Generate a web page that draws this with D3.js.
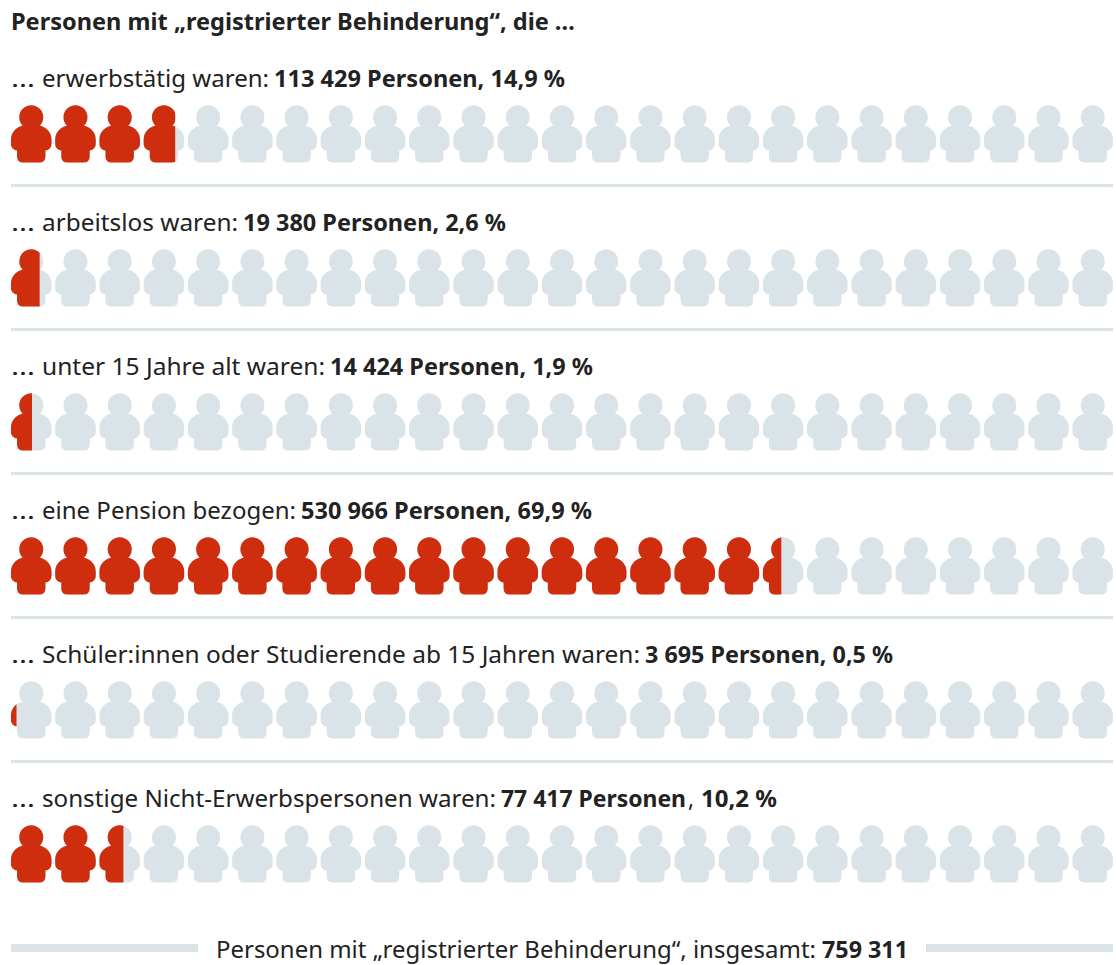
<!DOCTYPE html>
<html><head><meta charset="utf-8">
<script src="https://cdn.jsdelivr.net/npm/d3@7"></script>
<style>html,body{margin:0;padding:0;background:#fff}svg{display:block}
text{font-family:"Noto Sans","Open Sans",sans-serif;fill:#222;white-space:pre}</style></head>
<body><svg id="c" width="1116" height="965"></svg>
<script>
const labels=["erwerbstätig waren:","arbeitslos waren:","unter 15 Jahre alt waren:","eine Pension bezogen:","Schüler:innen oder Studierende ab 15 Jahren waren:","sonstige Nicht-Erwerbspersonen waren:"];
const persons=["113 429 Personen","19 380 Personen","14 424 Personen","530 966 Personen","3 695 Personen","77 417 Personen"];
const shares=[14.9,2.6,1.9,69.9,0.5,10.2];
const shareText=["14,9 %","2,6 %","1,9 %","69,9 %","0,5 %","10,2 %"];
const title="Personen mit „registrierter Behinderung“, die …";
const footer="Personen mit „registrierter Behinderung“, insgesamt:";
const total="759 311";
const iconCount=25;

// text layout: where each line's bold part starts and where the line ends
const boldStart=[274,243,330,301,645,501];
const lineEnd=[565,506,593,592,893,777];

const RED="#cf2e0e",GREY="#dae3e8";
const FS=24;
const svg=d3.select("#c");
const x=d3.scaleLinear().domain([0,100]).range([11,1113]);
const slot=d3.scaleLinear().domain([0,iconCount-1]).range([31.25,1092.75]);
const row=d3.scaleLinear().domain([0,1]).range([105,249]);

function fit(str,x0,x1,y,weight){
  svg.append("text").attr("x",x0).attr("y",y).attr("font-size",FS).attr("font-weight",weight)
    .attr("textLength",x1-x0).attr("lengthAdjust","spacingAndGlyphs").text(str);
}

function person(){
  const p=d3.path();
  p.moveTo(12,12.3);p.arc(0,12.3,12,0,2*Math.PI);p.closePath();
  p.moveTo(-4,20);p.lineTo(4,20);
  p.bezierCurveTo(13.5,20,20.3,26.5,20.3,34.5);
  p.lineTo(20.3,38.5);
  p.bezierCurveTo(20.3,42.5,18,45,14.2,45.5);
  p.lineTo(14.2,51.5);
  p.quadraticCurveTo(14.2,57.5,8,57.5);
  p.lineTo(-8,57.5);
  p.quadraticCurveTo(-14.2,57.5,-14.2,51.5);
  p.lineTo(-14.2,45.5);
  p.bezierCurveTo(-18,45,-20.3,42.5,-20.3,38.5);
  p.lineTo(-20.3,34.5);
  p.bezierCurveTo(-20.3,26.5,-13.5,20,-4,20);
  p.closePath();
  return p.toString();
}
const iconPath=person();

fit(title,11,575,30,700);

labels.forEach((lab,i)=>{
  const top=row(i),by=top-18;
  fit("…",11,35,by,400);
  fit(lab,42,boldStart[i]-5,by,400);
  if(i===5){
    fit(persons[i],boldStart[i],686,by,700);
    fit(",",688,694,by,400);
    fit(shareText[i],701,lineEnd[i],by,700);
  } else {
    fit(persons[i]+", "+shareText[i],boldStart[i],lineEnd[i],by,700);
  }

  const cid="clip"+i;
  svg.append("clipPath").attr("id",cid).append("rect")
    .attr("x",x(0)-1).attr("y",top-2).attr("width",x(shares[i])-x(0)+1).attr("height",62);
  const idx=d3.range(iconCount);
  svg.append("g").selectAll("path").data(idx).join("path")
    .attr("d",iconPath).attr("fill",GREY)
    .attr("transform",d=>`translate(${slot(d)},${top})`);
  svg.append("g").attr("clip-path",`url(#${cid})`).selectAll("path").data(idx).join("path")
    .attr("d",iconPath).attr("fill",RED)
    .attr("transform",d=>`translate(${slot(d)},${top})`);
  if(i<labels.length-1)
    svg.append("rect").attr("x",x(0)).attr("y",top+79).attr("width",x(100)-x(0)).attr("height",3).attr("fill",GREY);
});

svg.append("rect").attr("x",11).attr("y",944).attr("width",187).attr("height",8).attr("fill",GREY);
svg.append("rect").attr("x",926).attr("y",944).attr("width",187).attr("height",8).attr("fill",GREY);
fit(footer,216,816,958,400);
fit(total,822,908,958,700);
</script></body></html>
